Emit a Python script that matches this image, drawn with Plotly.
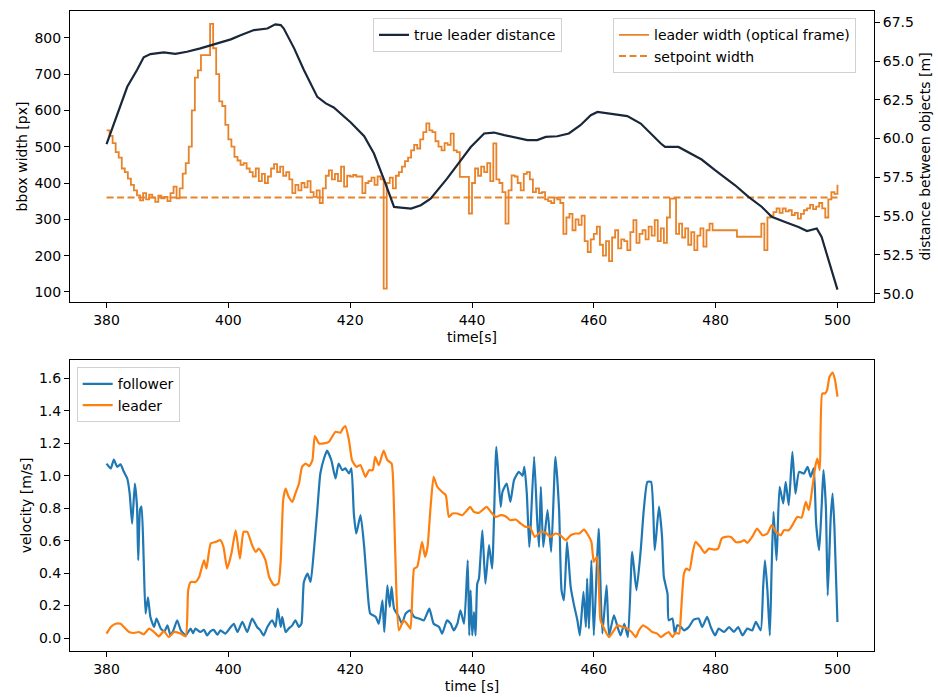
import numpy as np
import plotly.graph_objects as go

# ---------------- data ----------------
# true leader distance [m] (right axis, top panel)
DIST_T = [380.0, 383.4, 385.0, 386.1, 387.2, 389.4, 391.3, 393.2, 395.4, 397.6, 400.4, 402.0, 404.2,
          406.4, 407.7, 408.6, 409.1, 410.8, 412.4, 414.6, 416.0, 417.3, 420.1, 422.3, 423.9, 425.6,
          427.2, 428.3, 430.0, 431.6, 433.2, 435.9, 438.1, 439.8, 442.0, 443.6, 445.3, 447.4, 449.1,
          450.7, 452.1, 454.0, 455.9, 457.8, 459.5, 460.6, 462.2, 465.5, 467.7, 469.3, 471.0, 471.7,
          473.9, 477.7, 479.9, 483.2, 485.4, 487.6, 489.2, 491.4, 493.6, 495.0, 496.6, 497.4, 498.6, 500.0]
DIST_V = [59.64, 63.34, 64.42, 65.24, 65.45, 65.56, 65.47, 65.60, 65.82, 66.07, 66.40, 66.67, 67.00,
          67.10, 67.37, 67.32, 67.10, 65.82, 64.42, 62.69, 62.27, 62.01, 61.04, 60.16, 59.04, 57.31,
          55.59, 55.55, 55.49, 55.70, 56.13, 57.42, 58.60, 59.46, 60.33, 60.39, 60.22, 60.07, 59.90,
          59.90, 60.11, 60.15, 60.33, 60.86, 61.51, 61.72, 61.62, 61.45, 60.97, 60.33, 59.68, 59.46,
          59.46, 58.65, 57.96, 56.99, 56.24, 55.59, 54.95, 54.62, 54.30, 54.04, 54.20, 53.65, 52.15, 50.26]

# leader bbox width [px], sampled every 0.5 s from 380 s to 500 s
WIDTH_START, WIDTH_STEP = 380.0, 0.5
WIDTH_V = [
    545, 530, 510, 485, 470, 440, 430, 412, 395, 380, 366, 352, 372, 355, 368, 360, 348, 365, 358, 362,
    350, 372, 390, 358, 385, 426, 455, 500, 600, 690, 710, 752, 752, 752, 838, 771, 700, 625, 612, 560,
    520, 500, 472, 462, 450, 455, 440, 430, 418, 440, 405, 425, 400, 418, 440, 452, 430, 445, 420, 430,
    410, 372, 395, 380, 400, 388, 405, 375, 362, 380, 345, 385, 420, 435, 410, 425, 405, 445, 390, 420,
    418, 422, 418, 418, 372, 400, 405, 415, 395, 418, 410, 109, 400, 415, 385, 420, 430, 445, 460, 470,
    490, 505, 495, 520, 540, 564, 545, 540, 515, 500, 490, 510, 505, 536, 490, 485, 417, 417, 417, 316,
    400, 440, 420, 445, 430, 455, 405, 509, 410, 400, 375, 288, 380, 421, 418, 400, 380, 425, 430, 410,
    375, 385, 372, 375, 355, 350, 345, 360, 355, 345, 260, 305, 315, 270, 300, 285, 310, 240, 210, 245,
    260, 280, 230, 200, 240, 185, 250, 270, 220, 245, 240, 215, 265, 298, 235, 260, 270, 245, 280, 255,
    298, 240, 275, 235, 305, 357, 357, 260, 288, 250, 275, 230, 265, 215, 255, 275, 225, 270, 288, 270,
    270, 270, 270, 270, 270, 270, 270, 252, 252, 252, 252, 252, 252, 252, 252, 288, 215, 305, 310, 320,
    330, 318, 330, 322, 325, 312, 318, 302, 315, 325, 330, 340, 328, 335, 345, 330, 305, 355, 375, 370,
    395]
SETPOINT_WIDTH = 360

# velocities [m/s] (bottom panel)
FOLLOWER_T = [380.0, 380.7, 381.2, 381.75, 382.3, 382.85, 383.4, 383.8, 384.2, 384.65, 385.0, 385.2, 385.5,
              385.75, 386.1, 386.4, 386.8, 387.2, 387.8, 388.2, 388.9, 389.5, 390.0, 390.5, 391.0, 391.6,
              392.2, 393.0, 393.8, 394.2, 394.6, 395.4, 396.0, 396.5, 397.0, 397.6, 398.2, 398.7, 399.5,
              400.4, 400.9, 401.5, 402.3, 403.1, 403.9, 404.7, 405.2, 405.8, 406.4, 407.2, 407.75, 408.1,
              408.6, 408.85, 409.4, 409.9, 410.5, 411.0, 411.6, 412.0, 412.4, 413.0, 413.5, 414.0, 414.6,
              415.1, 415.7, 416.2, 416.9, 417.6, 418.1, 418.7, 419.2, 419.8, 420.2, 420.6, 421.0, 421.7,
              422.3, 422.8, 423.3, 424.2, 424.7, 425.3, 425.6, 426.1, 426.5, 426.8, 427.2, 428.0, 428.5,
              429.1, 429.8, 430.5, 431.3, 432.1, 433.0, 433.7, 434.6, 435.1, 435.9, 436.5, 437.0, 437.6,
              438.1, 438.7, 439.3, 439.55, 439.77, 440.04, 440.32, 440.59, 440.86, 441.14, 441.7, 442.2,
              442.8, 443.3, 444.0, 444.7, 445.0, 445.7, 446.3, 446.9, 447.7, 448.3, 448.6, 449.0, 449.4,
              449.6, 450.2, 450.7, 451.0, 451.3, 451.7, 452.4, 453.0, 453.7, 454.3, 454.7, 455.1, 455.6,
              456.2, 456.7, 457.3, 457.7, 458.3, 458.7, 458.9, 459.2, 459.6, 460.0, 460.5, 460.8, 461.4,
              462.1, 462.5, 463.3, 463.9, 464.4, 465.0, 465.6, 466.3, 467.0, 467.7, 468.2, 468.8, 469.4,
              470.0, 470.7, 471.2, 471.5, 472.1, 472.3, 472.9, 473.3, 473.7, 474.3, 474.8, 475.6, 476.4,
              477.2, 477.8, 478.6, 479.2, 479.9, 480.5, 481.4, 482.2, 483.0, 483.7, 484.4, 485.2, 486.0,
              486.6, 487.4, 487.8, 488.1, 488.5, 488.9, 489.2, 489.5, 490.0, 490.5, 491.1, 491.5, 492.0,
              492.6, 493.1, 493.7, 494.5, 495.1, 495.6, 496.1, 496.5, 497.0, 497.4, 497.7, 498.1, 498.4,
              498.9, 499.2, 499.5, 500.0]
FOLLOWER_V = [1.075, 1.045, 1.10, 1.055, 1.07, 1.024, 0.983, 0.89, 0.705, 0.952, 0.81, 0.48, 0.79,
              0.81, 0.48, 0.15, 0.25, 0.13, 0.068, 0.12, 0.058, 0.04, 0.078, 0.016, 0.05, 0.109,
              0.047, 0.016, 0.058, 0.03, 0.058, 0.037, 0.05, 0.016, 0.04, 0.05, 0.02, 0.047, 0.027,
              0.068, 0.088, 0.037, 0.099, 0.037, 0.12, 0.068, 0.05, 0.016, 0.068, 0.109, 0.068, 0.181,
              0.068, 0.13, 0.037, 0.058, 0.078, 0.109, 0.068, 0.088, 0.345, 0.397, 0.345, 0.52, 0.787,
              1.014, 1.106, 1.154, 1.096, 0.983, 1.075, 1.034, 1.045, 1.014, 1.045, 0.767, 0.644, 0.757,
              0.561, 0.315, 0.15, 0.13, 0.088, 0.232, 0.037, 0.325, 0.191, 0.315, 0.181, 0.13, 0.088,
              0.15, 0.171, 0.13, 0.12, 0.109, 0.181, 0.088, 0.068, 0.027, 0.109, 0.088, 0.047, 0.088,
              0.171, 0.088, 0.479, 0.016, 0.294, 0.016, 0.16, 0.016, 0.335, 0.366, 0.664, 0.335,
              0.572, 0.428, 1.178, 0.808, 0.90, 0.952, 0.839, 0.973, 1.024, 1.0, 1.055, 0.89, 0.561,
              0.664, 1.117, 0.726, 0.561, 0.932, 0.561, 0.788, 0.531, 1.117, 0.788, 0.294, 0.232, 0.592,
              0.315, 0.212, 0.109, 0.016, 0.284, 0.068, 0.366, 0.058, 0.479, 0.016, 0.448, 0.674, 0.027,
              0.325, 0.016, 0.14, 0.068, 0.016, 0.088, 0.006, 0.531, 0.294, 0.541, 0.788, 0.962, 0.962,
              0.541, 0.81, 0.623, 0.376, 0.273, 0.109, 0.12, 0.027, 0.078, 0.068, 0.047, 0.068, 0.113,
              0.12, 0.068, 0.13, 0.068, 0.016, 0.058, 0.037, 0.068, 0.037, 0.068, 0.016, 0.058, 0.047,
              0.099, 0.047, 0.315, 0.479, 0.294, 0.016, 0.438, 0.777, 0.479, 0.932, 0.829, 0.962, 0.818,
              1.147, 0.89, 1.024, 1.014, 1.055, 0.993, 1.045, 0.705, 0.541, 0.808, 1.034, 0.808, 0.263,
              0.746, 0.89, 0.685, 0.099]

LEADER_T = [380.0, 380.7, 381.5, 382.3, 382.85, 383.7, 384.5, 385.3, 386.1, 387.0, 387.8, 388.6, 389.4,
            390.2, 391.1, 392.2, 393.0, 393.4, 393.8, 394.6, 395.2, 396.0, 396.4, 397.1, 397.9, 398.7,
            399.2, 399.8, 400.5, 401.2, 401.9, 402.5, 403.1, 403.9, 404.5, 405.0, 405.6, 406.1, 406.7,
            407.5, 408.2, 408.6, 409.0, 409.4, 409.9, 410.5, 411.0, 411.6, 412.1, 412.7, 413.3, 413.8,
            414.2, 414.9, 415.7, 416.5, 417.6, 418.4, 418.8, 419.2, 419.8, 420.3, 421.0, 421.7, 422.5,
            423.1, 423.7, 424.1, 424.7, 425.5, 426.1, 426.8, 427.2, 427.6, 428.0, 428.8, 429.5, 429.9,
            430.5, 431.0, 431.8, 432.3, 432.7, 433.2, 433.7, 434.3, 435.1, 435.7, 436.2, 436.8, 437.6,
            438.4, 439.2, 439.7, 440.3, 441.1, 441.7, 442.4, 443.1, 443.9, 444.7, 445.5, 446.3, 447.2,
            448.0, 448.8, 449.5, 450.3, 451.3, 452.1, 452.9, 453.7, 454.5, 455.4, 456.2, 457.0, 457.6,
            458.4, 458.9, 459.6, 460.0, 460.5, 460.8, 461.1, 461.7, 462.5, 463.3, 463.9, 464.7, 465.5,
            466.2, 466.9, 467.4, 468.1, 468.8, 469.6, 470.4, 471.0, 471.8, 472.3, 472.9, 473.4, 474.0,
            474.3, 474.8, 475.2, 475.7, 476.2, 476.7, 477.5, 478.2, 478.9, 479.7, 480.4, 481.0, 481.6,
            482.5, 483.3, 484.1, 484.7, 485.2, 486.0, 486.8, 487.7, 488.5, 489.2, 489.9, 490.7, 491.2,
            492.0, 492.6, 493.4, 494.1, 494.8, 495.3, 495.9, 496.4, 496.7, 497.1, 497.5, 497.95, 498.3,
            498.7, 499.2, 499.6, 500.0]
LEADER_V = [0.027, 0.068, 0.088, 0.088, 0.068, 0.037, 0.031, 0.037, 0.023, 0.058, 0.037, 0.01, 0.043,
            0.006, 0.037, 0.027, 0.01, 0.294, 0.345, 0.345, 0.376, 0.479, 0.428, 0.582, 0.592, 0.603,
            0.561, 0.428, 0.52, 0.664, 0.489, 0.654, 0.654, 0.572, 0.531, 0.551, 0.52, 0.479, 0.376,
            0.325, 0.335, 0.479, 0.849, 0.921, 0.87, 0.839, 0.89, 0.952, 1.055, 1.075, 1.059, 1.096,
            1.244, 1.199, 1.199, 1.209, 1.271, 1.265, 1.291, 1.306, 1.219, 1.096, 1.055, 1.065, 0.993,
            1.034, 1.034, 1.117, 1.065, 1.154, 1.096, 1.075, 0.788, 0.273, 0.047, 0.109, 0.078, 0.058,
            0.428, 0.438, 0.592, 0.50, 0.561, 0.808, 0.993, 0.932, 0.90, 0.88, 0.746, 0.767, 0.767,
            0.757, 0.788, 0.808, 0.777, 0.771, 0.788, 0.808, 0.777, 0.746, 0.757, 0.75, 0.726, 0.73,
            0.705, 0.685, 0.685, 0.623, 0.654, 0.648, 0.623, 0.644, 0.633, 0.603, 0.633, 0.644, 0.644,
            0.668, 0.644, 0.592, 0.469, 0.50, 0.356, 0.109, 0.058, 0.006, 0.047, 0.078, 0.068, 0.058,
            0.037, 0.006, 0.047, 0.078, 0.062, 0.037, 0.027, 0.006, 0.027, 0.037, 0.006, 0.031, 0.027,
            0.15, 0.397, 0.428, 0.417, 0.52, 0.592, 0.561, 0.524, 0.551, 0.545, 0.551, 0.613, 0.623,
            0.623, 0.592, 0.592, 0.603, 0.586, 0.623, 0.674, 0.633, 0.644, 0.695, 0.654, 0.633, 0.664,
            0.664, 0.695, 0.746, 0.742, 0.839, 0.788, 0.932, 1.065, 1.106, 1.034, 1.507, 1.507, 1.528,
            1.61, 1.635, 1.59, 1.487]

X_TICKS = [380, 400, 420, 440, 460, 480, 500]

# ---------------- figure ----------------
NAVY = "#1a2639"
ORANGE_W = "#e8832a"
BLUE = "#1f77b4"
ORANGE = "#ff7f0e"
FONT = "DejaVu Sans"
FS = 14

width_t = WIDTH_START + WIDTH_STEP * np.arange(len(WIDTH_V))

fig = go.Figure()

fig.add_trace(go.Scatter(x=width_t, y=WIDTH_V, mode="lines", line=dict(color=ORANGE_W, width=1.8, shape="hv"),
                         name="leader width (optical frame)", xaxis="x", yaxis="y", legend="legend2",
                         showlegend=True))
fig.add_trace(go.Scatter(x=[width_t[0], width_t[-1]], y=[SETPOINT_WIDTH, SETPOINT_WIDTH], mode="lines",
                         line=dict(color=ORANGE_W, width=2, dash="7px,3.5px"),
                         name="setpoint width", xaxis="x", yaxis="y", legend="legend2", showlegend=True))
fig.add_trace(go.Scatter(x=DIST_T, y=DIST_V, mode="lines", line=dict(color=NAVY, width=2.2),
                         name="true leader distance", xaxis="x", yaxis="y3", legend="legend",
                         showlegend=True))

fig.add_trace(go.Scatter(x=FOLLOWER_T, y=FOLLOWER_V, mode="lines",
                         line=dict(color=BLUE, width=2.2, shape="spline", smoothing=0.5),
                         name="follower", xaxis="x2", yaxis="y2", legend="legend3", showlegend=True))
fig.add_trace(go.Scatter(x=LEADER_T, y=LEADER_V, mode="lines",
                         line=dict(color=ORANGE, width=2.2, shape="spline", smoothing=0.5),
                         name="leader", xaxis="x2", yaxis="y2", legend="legend3", showlegend=True))

axis_common = dict(showline=True, linecolor="black", linewidth=1, mirror=True, ticks="outside",
                   ticklen=5, tickwidth=1, tickcolor="black", showgrid=False, zeroline=False,
                   automargin=False, tickfont=dict(family=FONT, size=FS, color="black"))

L, R, T, B = 70, 64, 11, 46
H = 697 - T - B
top_bottom = (697 - B - 302) / H
bot_top = (697 - B - 360) / H

leg_common = dict(font=dict(family=FONT, size=FS, color="black"), bgcolor="rgba(255,255,255,0.85)",
                  bordercolor="#d0d0d0", borderwidth=1, xanchor="left", yanchor="top",
                  tracegroupgap=0, itemwidth=30, visible=True)

fig.update_layout(
    width=938, height=697,
    margin=dict(l=L, r=R, t=T, b=B, autoexpand=False),
    showlegend=True,
    paper_bgcolor="white", plot_bgcolor="white",
    font=dict(family=FONT, size=FS, color="black"),
    xaxis=dict(domain=[0, 1], anchor="y", range=[374, 506], tickvals=X_TICKS,
               title=dict(text="time[s]", font=dict(family=FONT, size=FS), standoff=5), **axis_common),
    yaxis=dict(domain=[top_bottom, 1], anchor="x", range=[72.4, 873.6], dtick=100, tick0=0,
               title=dict(text="bbox width [px]", font=dict(family=FONT, size=FS), standoff=3), **axis_common),
    yaxis3=dict(overlaying="y", side="right", anchor="x", range=[49.46, 68.23], dtick=2.5, tick0=50,
                tickformat=".1f",
                title=dict(text="distance between objects [m]", font=dict(family=FONT, size=FS), standoff=7),
                **{k: v for k, v in axis_common.items() if k != "mirror"}),
    xaxis2=dict(domain=[0, 1], anchor="y2", range=[374, 506], tickvals=X_TICKS,
                title=dict(text="time [s]", font=dict(family=FONT, size=FS), standoff=5), **axis_common),
    yaxis2=dict(domain=[0, bot_top], anchor="x2", range=[-0.080, 1.713], dtick=0.2, tick0=0,
                tickformat=".1f",
                title=dict(text="velocity [m/s]", font=dict(family=FONT, size=FS), standoff=4), **axis_common),
    legend=dict(x=(373 - L) / (938 - L - R), y=(697 - B - 18.3) / H, **leg_common),
    legend2=dict(x=(613 - L) / (938 - L - R), y=(697 - B - 18.3) / H, **leg_common),
    legend3=dict(x=(76.7 - L) / (938 - L - R), y=(697 - B - 367.3) / H, **leg_common),
)

fig.write_html("out.html")
